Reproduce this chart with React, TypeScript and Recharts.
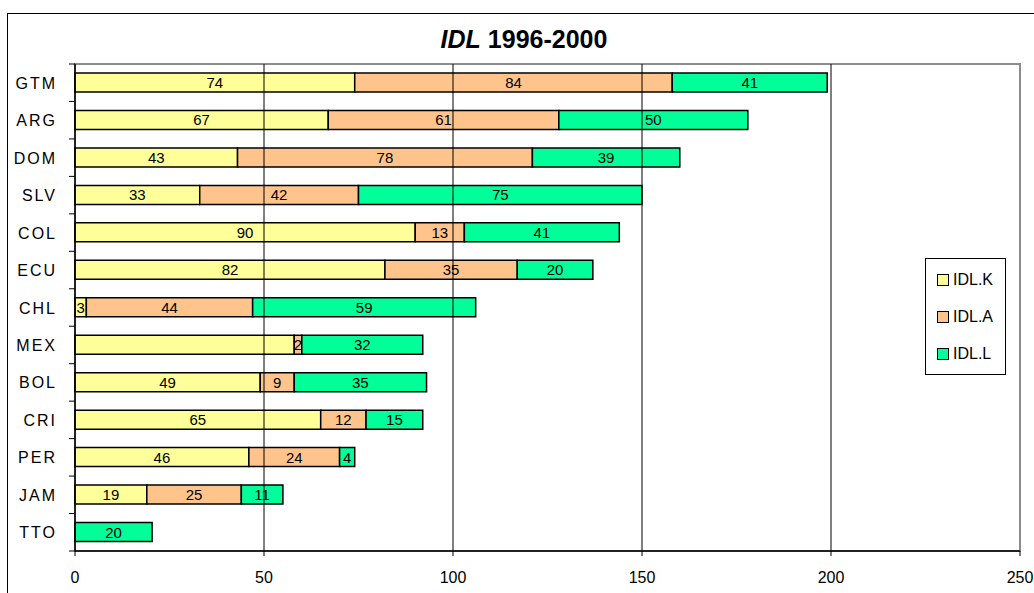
import React from 'react';
import { BarChart, Bar, XAxis, YAxis, LabelList, Legend, ReferenceArea, ReferenceLine } from 'recharts';

const categories = ['GTM', 'ARG', 'DOM', 'SLV', 'COL', 'ECU', 'CHL', 'MEX', 'BOL', 'CRI', 'PER', 'JAM', 'TTO'];
const idlK = [74, 67, 43, 33, 90, 82, 3, 58, 49, 65, 46, 19, 0];
const idlA = [84, 61, 78, 42, 13, 35, 44, 2, 9, 12, 24, 25, 0];
const idlL = [41, 50, 39, 75, 41, 20, 59, 32, 35, 15, 4, 11, 20.4];
const xTicks = [0, 50, 100, 150, 200, 250];
const gridValues = [50, 100, 150, 200];
const hiddenLabels = ['MEX:k'];

const series = [
  { key: 'k', name: 'IDL.K', color: '#FFFF99' },
  { key: 'a', name: 'IDL.A', color: '#FFC48C' },
  { key: 'l', name: 'IDL.L', color: '#00FF99' },
];

const data = categories.map((c, i) => ({ cat: c, k: idlK[i], a: idlA[i], l: idlL[i] }));

const FONT = 'Liberation Sans, Arial, sans-serif';

const YTick = (props: any) => {
  const { x, y, payload, index, height, visibleTicksCount } = props;
  const n = visibleTicksCount || categories.length;
  const half = (height || 487) / n / 2;
  return (
    <g>
      <text x={x - 18} y={y} dy={6} textAnchor="end" fontSize={16} letterSpacing={2} fontFamily={FONT} fill="#000">
        {payload.value}
      </text>
      {index === 0 && <line x1={x - 6} x2={x} y1={y - half} y2={y - half} stroke="#000" strokeWidth={1} />}
      <line x1={x - 6} x2={x} y1={y + half} y2={y + half} stroke="#000" strokeWidth={1} />
    </g>
  );
};

const makeLabel = (key: string) => (props: any) => {
  const { x, y, width, height, value, index } = props;
  if (!value) return null;
  if (hiddenLabels.includes(categories[index] + ':' + key)) return null;
  return (
    <text x={x + width / 2} y={y + height / 2} dy={5.5} textAnchor="middle" fontSize={15} fontFamily={FONT} fill="#000">
      {Math.round(value)}
    </text>
  );
};

const LegendBox = () => (
  <div style={{ width: 81, height: 117, border: '1px solid #000', background: '#fff', boxSizing: 'border-box', padding: '2px 0 0 11px', fontFamily: FONT, fontSize: 16 }}>
    {series.map((s) => (
      <div key={s.key} style={{ display: 'flex', alignItems: 'center', height: 37 }}>
        <span style={{ display: 'inline-block', width: 10, height: 10, background: s.color, border: '1px solid #000', marginRight: 4 }} />
        <span>{s.name}</span>
      </div>
    ))}
  </div>
);

export default function App() {
  return (
    <div style={{ position: 'absolute', left: 0, top: 0, width: 1034, height: 593, overflow: 'hidden', background: '#fff' }}>
      <div style={{ position: 'absolute', left: 7, top: 13, width: 1100, height: 700, border: '1px solid #000' }} />
      <div style={{ position: 'absolute', left: 0, top: 25, width: 1048, textAlign: 'center', fontFamily: FONT, fontWeight: 'bold', fontSize: 25 }}>
        <i>IDL</i> 1996-2000
      </div>
      <div style={{ position: 'absolute', left: 0, top: 0 }}>
        <BarChart
          width={1034}
          height={593}
          data={data}
          layout="vertical"
          barCategoryGap="24%"
          margin={{ top: 64, right: 14, bottom: 0, left: 8 }}
        >
          <ReferenceArea x1={0} x2={250} fill="none" stroke="#8c8c8c" strokeWidth={2} ifOverflow="visible" />
          {gridValues.map((v) => (
            <ReferenceLine key={v} x={v} stroke="#000" strokeWidth={1} />
          ))}
          <XAxis
            type="number"
            domain={[0, 250]}
            ticks={xTicks}
            interval={0}
            height={42}
            tickSize={5}
            tickMargin={16}
            axisLine={{ stroke: '#000', strokeWidth: 1.5 }}
            tickLine={{ stroke: '#000' }}
            tick={{ fill: '#000', fontSize: 16, fontFamily: FONT }}
          />
          <YAxis
            type="category"
            dataKey="cat"
            width={67}
            interval={0}
            tickSize={0}
            tickMargin={0}
            tickLine={false}
            axisLine={{ stroke: '#000', strokeWidth: 1.5 }}
            tick={<YTick />}
          />
          <Legend
            layout="horizontal"
            verticalAlign="middle"
            align="center"
            content={<LegendBox />}
            wrapperStyle={{ position: 'absolute', left: 925, top: 258, width: 81 }}
          />
          {series.map((s) => (
            <Bar key={s.key} dataKey={s.key} name={s.name} stackId="s" fill={s.color} stroke="#000" strokeWidth={1.5} isAnimationActive={false}>
              <LabelList dataKey={s.key} content={makeLabel(s.key)} />
            </Bar>
          ))}
        </BarChart>
      </div>
    </div>
  );
}
